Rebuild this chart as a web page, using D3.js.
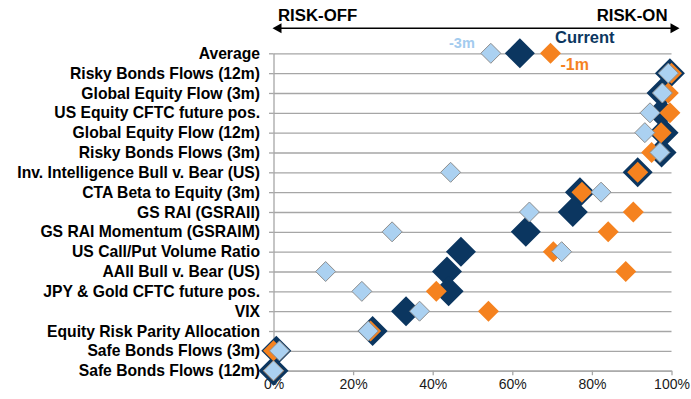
<!DOCTYPE html>
<html>
<head>
<meta charset="utf-8">
<script src="https://cdn.jsdelivr.net/npm/d3@7"></script>
<style>
  html, body { margin: 0; padding: 0; background: #fff; }
  svg { display: block; font-family: Arial, "Liberation Sans", sans-serif; }
</style>
</head>
<body>
<svg id="chart" width="691" height="399"></svg>
<script>
// Indicators, top to bottom
const categories = [
  "Average",
  "Risky Bonds Flows (12m)",
  "Global Equity Flow (3m)",
  "US Equity CFTC future pos.",
  "Global Equity Flow (12m)",
  "Risky Bonds Flows (3m)",
  "Inv. Intelligence Bull v. Bear (US)",
  "CTA Beta to Equity (3m)",
  "GS RAI (GSRAII)",
  "GS RAI Momentum (GSRAIM)",
  "US Call/Put Volume Ratio",
  "AAII Bull v. Bear (US)",
  "JPY & Gold CFTC future pos.",
  "VIX",
  "Equity Risk Parity Allocation",
  "Safe Bonds Flows (3m)",
  "Safe Bonds Flows (12m)"
];

// Percentile readings (%)
const current = [61.9, 99.6, 97.5, 97.5, 98.0, 97.5, 91.5, 77.0, 75.2, 63.4, 47.1, 43.6, 44.0, 33.3, 24.9, 0.7, 0];
const oneMonthAgo = [69.6, 100, 99.2, 99.6, 97.4, 95.0, 91.5, 77.5, 90.4, 84.1, 70.3, 88.5, 40.9, 54.0, 24.4, 0, 0];
const threeMonthsAgo = [54.6, 99.2, 97.7, 94.6, 93.3, 97.1, 44.5, 82.3, 64.3, 29.8, 72.4, 13.1, 22.2, 36.7, 23.8, 1.5, 0];

const xTicks = [0, 20, 40, 60, 80, 100];

const svg = d3.select("#chart");

const x = d3.scaleLinear().domain([0, 100]).range([273.5, 671.5]);
const y = d3.scalePoint().domain(categories).range([53.3, 370.7]);

const NAVY = "#0b3660";
const ORANGE = "#f5821f";
const LIGHT = "#abd1f1";
const GRID = "#a6a6a6";

// horizontal gridlines, one per indicator
svg.append("g")
  .attr("transform", `translate(${x(0)},0)`)
  .call(d3.axisLeft(y).tickSizeInner(-(x(100) - x(0))).tickSizeOuter(0).tickFormat(""))
  .call(g => g.select(".domain").remove())
  .call(g => g.selectAll(".tick line").attr("stroke", GRID).attr("stroke-width", 1.3));

// category axis: labels and short ticks
svg.append("g")
  .attr("transform", `translate(${x(0)},0)`)
  .call(d3.axisLeft(y).tickSizeInner(4.5).tickSizeOuter(0).tickPadding(9))
  .call(g => g.select(".domain").attr("stroke", GRID).attr("stroke-width", 1.3))
  .call(g => g.selectAll(".tick line").attr("stroke", GRID).attr("stroke-width", 1.3))
  .call(g => g.selectAll(".tick text")
    .attr("fill", "#000")
    .style("font-size", "15.7px")
    .style("font-weight", "bold"));

// percentile axis
svg.append("g")
  .attr("transform", `translate(0,${y(categories[categories.length - 1])})`)
  .call(d3.axisBottom(x).tickValues(xTicks).tickFormat(d => d + "%").tickSizeInner(4.5).tickSizeOuter(0).tickPadding(4))
  .call(g => g.select(".domain").attr("stroke", GRID).attr("stroke-width", 1.3))
  .call(g => g.selectAll(".tick line").attr("stroke", GRID).attr("stroke-width", 1.3))
  .call(g => g.selectAll(".tick text")
    .attr("fill", "#1a1a1a")
    .style("font-size", "14px"));

const diamond = r => `M0,${-r}L${r},0L0,${r}L${-r},0Z`;

// current readings (large navy), then 1m ago (orange), then 3m ago (light blue)
svg.append("g").selectAll("path")
  .data(current.map((v, i) => ({ v, c: categories[i] })))
  .join("path")
  .attr("d", diamond(15))
  .attr("transform", d => `translate(${x(d.v)},${y(d.c)})`)
  .attr("fill", NAVY);

svg.append("g").selectAll("path")
  .data(oneMonthAgo.map((v, i) => ({ v, c: categories[i] })))
  .join("path")
  .attr("d", diamond(10.5))
  .attr("transform", d => `translate(${x(d.v)},${y(d.c)})`)
  .attr("fill", ORANGE);

svg.append("g").selectAll("path")
  .data(threeMonthsAgo.map((v, i) => ({ v, c: categories[i] })))
  .join("path")
  .attr("d", diamond(10))
  .attr("transform", d => `translate(${x(d.v)},${y(d.c)})`)
  .attr("fill", LIGHT)
  .attr("stroke", "#8e8e8e")
  .attr("stroke-width", 1);

// series labels around the Average row
const avgY = y(categories[0]);
svg.append("text")
  .attr("x", x(threeMonthsAgo[0]) - 16).attr("y", avgY - 5.6)
  .attr("text-anchor", "end")
  .attr("fill", "#a3cbee")
  .style("font-size", "14.5px").style("font-weight", "bold")
  .text("-3m");
svg.append("text")
  .attr("x", 555).attr("y", avgY - 10)
  .attr("fill", NAVY)
  .style("font-size", "16.5px").style("font-weight", "bold")
  .text("Current");
svg.append("text")
  .attr("x", x(oneMonthAgo[0]) + 10).attr("y", avgY + 16.7)
  .attr("fill", ORANGE)
  .style("font-size", "16px").style("font-weight", "bold")
  .text("-1m");

// risk direction arrow
const arrowY = 28.3;
const ax0 = 272.5, ax1 = 679.5;
svg.append("line")
  .attr("x1", ax0 + 6).attr("x2", ax1 - 6)
  .attr("y1", arrowY).attr("y2", arrowY)
  .attr("stroke", "#000").attr("stroke-width", 1.6);
svg.append("path")
  .attr("d", `M${ax0},${arrowY}L${ax0 + 9},${arrowY - 5}L${ax0 + 9},${arrowY + 5}Z`)
  .attr("fill", "#000");
svg.append("path")
  .attr("d", `M${ax1},${arrowY}L${ax1 - 9},${arrowY - 5}L${ax1 - 9},${arrowY + 5}Z`)
  .attr("fill", "#000");

svg.append("text")
  .attr("x", 278).attr("y", 20.7)
  .attr("fill", "#000")
  .style("font-size", "16.8px").style("font-weight", "bold")
  .text("RISK-OFF");
svg.append("text")
  .attr("x", 667.5).attr("y", 20.7)
  .attr("text-anchor", "end")
  .attr("fill", "#000")
  .style("font-size", "16.8px").style("font-weight", "bold")
  .text("RISK-ON");
</script>
</body>
</html>
